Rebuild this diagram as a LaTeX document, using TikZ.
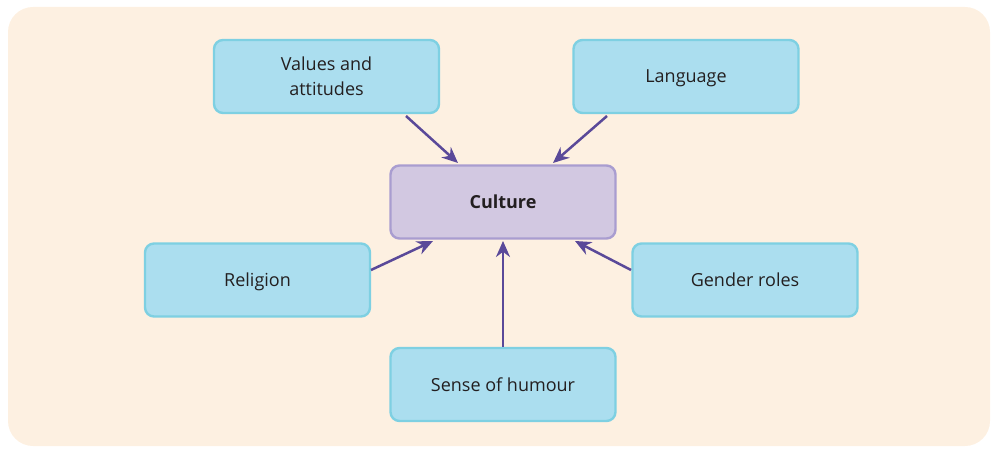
\documentclass[tikz,border=0pt]{standalone}
\usepackage{fontspec}
\setmainfont{Open Sans}
\usetikzlibrary{arrows.meta}
\definecolor{bgc}{HTML}{FDF0E1}
\definecolor{boxfill}{HTML}{ABDEEF}
\definecolor{boxline}{HTML}{7ED0E2}
\definecolor{cfill}{HTML}{D2C8E1}
\definecolor{cline}{HTML}{A99DD0}
\definecolor{arr}{HTML}{5A4999}
\definecolor{txt}{HTML}{231F20}
\tikzset{
  xbox/.style={draw=boxline, fill=boxfill, line width=2.4pt, rounded corners=9pt,
    minimum width=225pt, minimum height=73pt, align=center, text=txt,
    font=\fontsize{18}{25}\selectfont, inner sep=0pt},
  onebox/.style={xbox, text height=16pt, text depth=3pt},
  cbox/.style={onebox, draw=cline, fill=cfill, font=\fontsize{18}{25}\selectfont\bfseries},
  conn/.style={draw=arr, line width=2.5pt, -{Stealth[length=16pt,width=14pt]}}
}
\begin{document}
\begin{tikzpicture}[x=1pt,y=-1pt]
\useasboundingbox (0,0) rectangle (993,449);
\fill[bgc, rounded corners=25pt] (8,7) rectangle (990,446);
\node[xbox] (val) at (326.5,76.5) {Values and\\attitudes};
\node[onebox] (lang) at (686,76.5) {Language};
\node[cbox] (cul) at (503,202) {Culture};
\node[onebox] (rel) at (257.5,280) {Religion};
\node[onebox] (gen) at (745,280) {Gender roles};
\node[onebox] (sen) at (503,384.5) {Sense of humour};
\coordinate (v1) at (406,116);
\coordinate (v2) at (458,163);
\coordinate (l1) at (607,116);
\coordinate (l2) at (553,163);
\coordinate (r1) at (371,270);
\coordinate (r2) at (433,241);
\coordinate (s2) at (503,241);
\coordinate (g1) at (631,270);
\coordinate (g2) at (575,241);
\draw[conn] (v1) -- (v2);
\draw[conn] (l1) -- (l2);
\draw[conn] (r1) -- (r2);
\draw[conn] (sen.north) -- (s2);
\draw[conn] (g1) -- (g2);
\end{tikzpicture}
\end{document}
